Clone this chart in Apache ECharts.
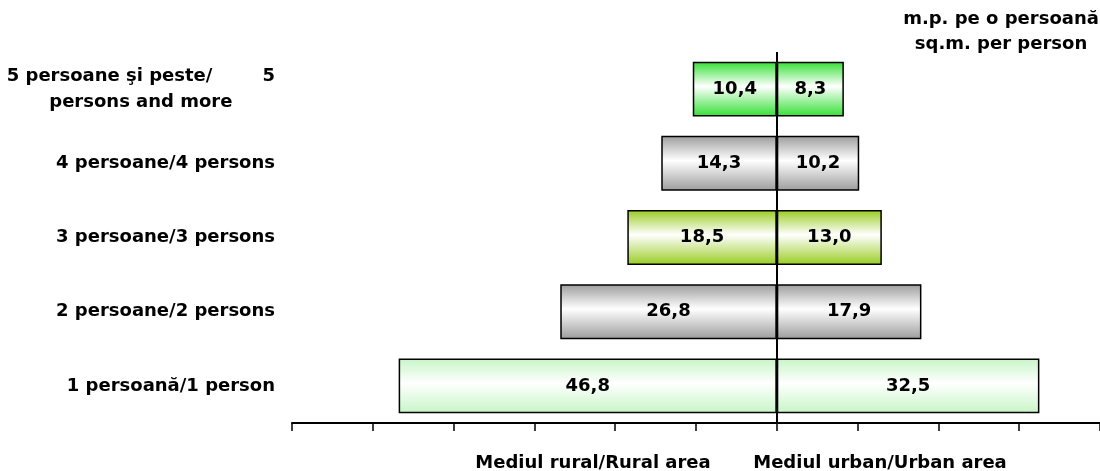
<!DOCTYPE html>
<html>
<head>
<meta charset="utf-8">
<script src="https://cdn.jsdelivr.net/npm/echarts@6/dist/echarts.min.js"></script>
<style>html,body{margin:0;padding:0;background:#fff}#c{width:1100px;height:471px}</style>
</head>
<body>
<div id="c"></div>
<script>
const categories = ['1 persoană/1 person', '2 persoane/2 persons', '3 persoane/3 persons', '4 persoane/4 persons', '5 persoane şi peste/        5\npersons and more'];
const rural = [46.8, 26.8, 18.5, 14.3, 10.4];
const urban = [32.5, 17.9, 13.0, 10.2, 8.3];
const edgeColors = ['#c6f5c6', '#9c9c9c', '#99cc22', '#9c9c9c', '#33e033'];
const unitTitle = 'm.p. pe o persoană\nsq.m. per person';
const ruralName = 'Mediul rural/Rural area';
const urbanName = 'Mediul urban/Urban area';

const FONT = '"DejaVu Sans", "Liberation Sans", Arial, sans-serif';
const FS = 18;

function grad(c) {
  return new echarts.graphic.LinearGradient(0, 0, 0, 1, [
    {offset: 0, color: c}, {offset: 0.45, color: '#ffffff'}, {offset: 1, color: c}
  ]);
}
function measure(t) {
  const ctx = document.createElement('canvas').getContext('2d');
  ctx.font = 'bold ' + FS + 'px ' + FONT;
  return ctx.measureText(t).width;
}
const multi = categories[4].split('\n');
const pad = Math.max(0, (measure(multi[0]) - measure(multi[1])) / 2);

const chart = echarts.init(document.getElementById('c'), null, {renderer: 'canvas'});
const labelFmt = v => Math.abs(v).toFixed(1).replace('.', ',');
const txt = {fontFamily: FONT, fontWeight: 'bold', fontSize: FS, color: '#000'};
chart.setOption({
  animation: false,
  title: [
    {text: unitTitle, left: 996, top: 2, textAlign: 'center',
     textStyle: Object.assign({lineHeight: 25}, txt)},
    {text: ruralName, left: 588, top: 449, textAlign: 'center', textStyle: txt},
    {text: urbanName, left: 875, top: 449, textAlign: 'center', textStyle: txt}
  ],
  grid: {left: 292, right: 0, top: 52, bottom: 48, containLabel: false},
  xAxis: {
    type: 'value', min: -60, max: 40, interval: 10,
    axisLine: {show: true, onZero: false, lineStyle: {color: '#000', width: 2}},
    axisTick: {show: true, inside: false, length: 8, lineStyle: {color: '#000', width: 1.5}},
    axisLabel: {show: false},
    splitLine: {show: false}
  },
  yAxis: {
    type: 'category', data: categories, position: 'left',
    axisLine: {show: false}, axisTick: {show: false},
    axisLabel: Object.assign({
      margin: 17,
      formatter: function (v) {
        const p = v.split('\n');
        if (p.length > 1) return '{a|' + p[0] + '}\n{b|' + p[1] + '}';
        return v;
      },
      rich: {
        a: Object.assign({lineHeight: 26}, txt),
        b: Object.assign({lineHeight: 26, padding: [0, pad, 0, 0]}, txt)
      }
    }, txt)
  },
  series: [
    {
      name: ruralName, type: 'bar', stack: 'total', barWidth: '74%',
      data: rural.map((v, i) => ({value: -v, itemStyle: {color: grad(edgeColors[i])}})),
      itemStyle: {borderColor: '#000', borderWidth: 1.5},
      label: Object.assign({show: true, position: 'inside', formatter: p => labelFmt(p.value)}, txt)
    },
    {
      name: urbanName, type: 'bar', stack: 'total', barWidth: '74%',
      data: urban.map((v, i) => ({value: v, itemStyle: {color: grad(edgeColors[i])}})),
      itemStyle: {borderColor: '#000', borderWidth: 1.5},
      label: Object.assign({show: true, position: 'inside', formatter: p => labelFmt(p.value)}, txt),
      markLine: {
        silent: true, symbol: ['none', 'none'], label: {show: false},
        lineStyle: {color: '#000', width: 2, type: 'solid'},
        data: [{xAxis: 0}]
      }
    }
  ]
});
</script>
</body>
</html>
